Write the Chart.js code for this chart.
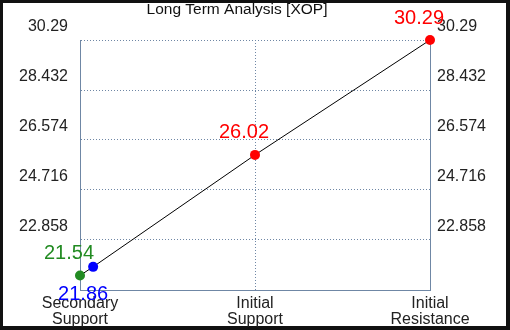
<!DOCTYPE html>
<html>
<head>
<meta charset="utf-8">
<script src="https://cdn.jsdelivr.net/npm/chart.js@4/dist/chart.umd.min.js"></script>
<style>
  html, body { margin: 0; padding: 0; background: #111; }
  canvas { display: block; }
</style>
</head>
<body>
<canvas id="chart" width="510" height="330"></canvas>
<script>
// --- DATOS ---
const chartTitle = 'Long Term Analysis [XOP]';
const categories = ['Secondary Support', 'Initial Support', 'Initial Resistance'];
const pointX = [0, 0.075, 1, 2];
const pointValues = [21.54, 21.86, 26.02, 30.29];
const pointLabels = ['21.54', '21.86', '26.02', '30.29'];
const pointColors = ['#228b22', '#0000ff', '#ff0000', '#ff0000'];
const yTickValues = [21, 22.858, 24.716, 26.574, 28.432, 30.29];
const yTickLabels = ['', '22.858', '24.716', '26.574', '28.432', '30.29'];

const axisColor = '#6f87a5';
const textColor = '#222';
const fontFamily = '"Liberation Sans", Arial, sans-serif';

// Fondo blanco con marco negro
const framePlugin = {
    id: 'frame',
    beforeDraw(chart) {
        const ctx = chart.ctx;
        ctx.save();
        ctx.fillStyle = '#111';
        ctx.fillRect(0, 0, chart.width, chart.height);
        ctx.fillStyle = '#fff';
        ctx.fillRect(3, 3, chart.width - 7, chart.height - 7);
        ctx.restore();
    },
    afterDraw(chart) {
        const ctx = chart.ctx;
        ctx.save();
        ctx.font = '15.5px ' + fontFamily;
        ctx.fillStyle = '#111';
        ctx.textAlign = 'center';
        ctx.textBaseline = 'middle';
        ctx.fillText(chartTitle, 237, 10);
        ctx.restore();
    }
};

// Etiquetas de valor junto a cada punto
const valueLabelPlugin = {
    id: 'valueLabels',
    afterDatasetsDraw(chart) {
        const ctx = chart.ctx;
        const meta = chart.getDatasetMeta(0);
        ctx.save();
        ctx.font = '20px ' + fontFamily;
        ctx.textAlign = 'center';
        ctx.textBaseline = 'middle';
        meta.data.forEach((pt, i) => {
            const below = i === 1;
            ctx.fillStyle = pointColors[i];
            ctx.fillText(pointLabels[i], pt.x + (below ? -10 : -11), pt.y + (below ? 28 : -22));
        });
        ctx.restore();
    }
};

const yTickSetup = (scale) => {
    scale.ticks = yTickValues.map(v => ({ value: v }));
};

new Chart(document.getElementById('chart').getContext('2d'), {
    type: 'line',
    data: {
        datasets: [{
            data: pointX.map((x, i) => ({ x: x, y: pointValues[i] })),
            borderColor: '#000',
            borderWidth: 1,
            tension: 0,
            pointRadius: 5,
            pointBorderWidth: 0,
            pointBackgroundColor: pointColors,
            pointBorderColor: pointColors,
            clip: false
        }]
    },
    options: {
        responsive: false,
        animation: false,
        layout: { padding: { top: 40, left: 0, right: 0, bottom: 0 } },
        plugins: {
            legend: { display: false },
            tooltip: { enabled: false },
            title: { display: false }
        },
        scales: {
            x: {
                type: 'linear',
                min: 0,
                max: 2,
                afterBuildTicks: (scale) => { scale.ticks = [0, 1, 2].map(v => ({ value: v })); },
                afterFit: (scale) => { scale.height = 40; },
                ticks: {
                    padding: 6,
                    color: textColor,
                    font: { family: fontFamily, size: 16, lineHeight: 1.0 },
                    maxRotation: 0,
                    autoSkip: false,
                    callback: (v) => categories[v].split(' ')
                },
                grid: { color: axisColor, drawTicks: false, lineWidth: 1 },
                border: { display: true, color: axisColor, dash: [1, 2] }
            },
            y: {
                position: 'left',
                min: 21,
                max: 30.29,
                afterBuildTicks: yTickSetup,
                afterFit: (scale) => { scale.width = 80; },
                ticks: {
                    padding: 12,
                    labelOffset: -13,
                    color: textColor,
                    font: { family: fontFamily, size: 16 },
                    callback: (v, i) => yTickLabels[i]
                },
                grid: { color: axisColor, drawTicks: false, lineWidth: 1 },
                border: { display: true, color: axisColor, dash: [1, 2] }
            },
            y2: {
                position: 'right',
                min: 21,
                max: 30.29,
                afterBuildTicks: yTickSetup,
                afterFit: (scale) => { scale.width = 80; },
                ticks: {
                    padding: 7,
                    labelOffset: -13,
                    color: textColor,
                    font: { family: fontFamily, size: 16 },
                    callback: (v, i) => yTickLabels[i]
                },
                grid: { drawOnChartArea: false, drawTicks: false },
                border: { display: true, color: axisColor }
            }
        }
    },
    plugins: [framePlugin, valueLabelPlugin]
});
</script>
</body>
</html>
